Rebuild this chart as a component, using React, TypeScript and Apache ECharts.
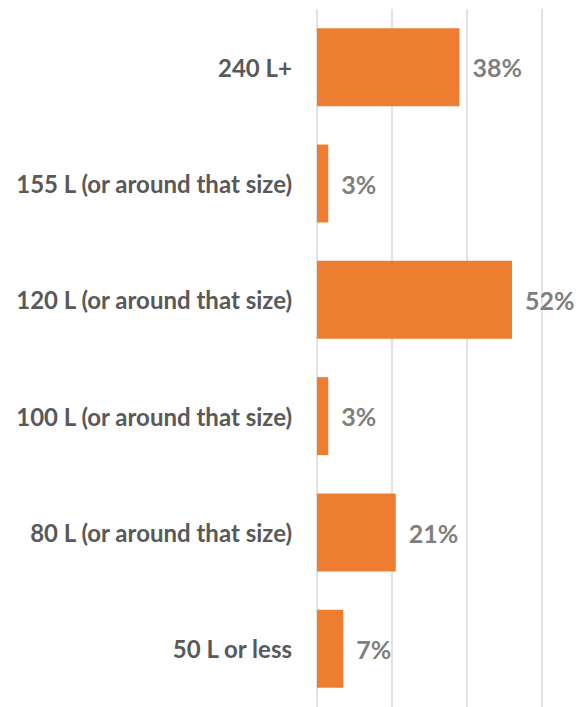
import React, { useEffect, useRef } from "react";
import * as echarts from "echarts";

const categories = [
  "50 L or less",
  "80 L (or around that size)",
  "100 L (or around that size)",
  "120 L (or around that size)",
  "155 L (or around that size)",
  "240 L+",
];
const values = [7, 21, 3, 52, 3, 38];
const axisMax = 60;
const axisInterval = 20;

export default function App() {
  const ref = useRef<HTMLDivElement>(null);
  useEffect(() => {
    const chart = echarts.init(ref.current!, null, { renderer: "svg" });
    chart.setOption({
      animation: false,
      grid: { left: 317, top: 9, width: 225, height: 700, containLabel: false },
      xAxis: {
        type: "value",
        min: 0,
        max: axisMax,
        interval: axisInterval,
        axisLabel: { show: false },
        axisLine: { show: false },
        axisTick: { show: false },
        splitLine: { show: true, lineStyle: { color: "#d9d9d9", width: 1.5 } },
      },
      yAxis: {
        type: "category",
        data: categories,
        axisLine: { show: false },
        axisTick: { show: false },
        axisLabel: {
          margin: 25,
          color: "#595959",
          fontSize: 24,
          fontWeight: "bold",
          fontFamily: "Lato",
        },
      },
      series: [
        {
          type: "bar",
          data: values,
          barCategoryGap: "33%",
          itemStyle: { color: "#ed7d31" },
          label: {
            show: true,
            position: "right",
            distance: 13,
            formatter: "{c}%",
            color: "#7f7f7f",
            fontSize: 25,
            fontWeight: "bold",
            fontFamily: "Lato",
          },
        },
      ],
    });
    return () => chart.dispose();
  }, []);
  return <div ref={ref} style={{ width: 580, height: 707, position: "absolute", left: 0, top: 0 }} />;
}
